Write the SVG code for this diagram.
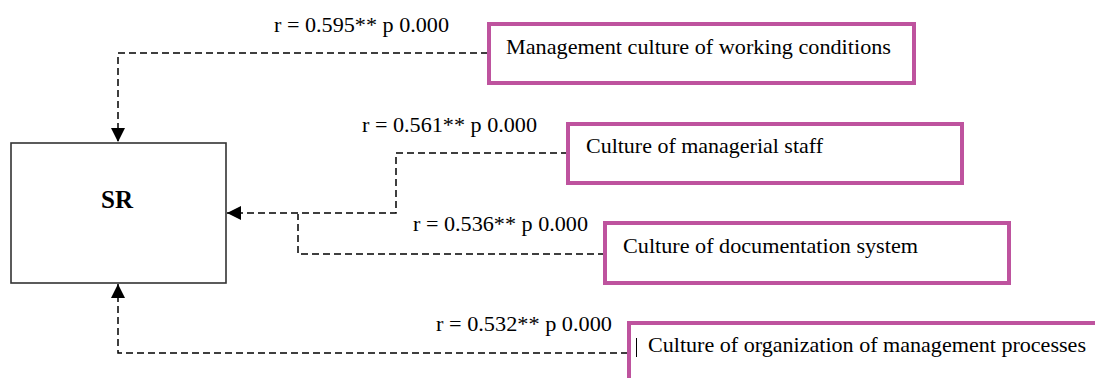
<svg xmlns="http://www.w3.org/2000/svg" width="1095" height="378" viewBox="0 0 1095 378">
<style>
  .t { font-family: "Liberation Serif", "Times New Roman", serif; font-size: 22px; fill: #000; }
  .sr { font-family: "Liberation Serif", "Times New Roman", serif; font-size: 25px; font-weight: bold; fill: #000; }
  .box { fill: #fff; stroke: #BE539E; stroke-width: 4; }
  .main { fill: #fff; stroke: #333; stroke-width: 1.6; }
  .conn { fill: none; stroke: #000; stroke-width: 1.5; stroke-dasharray: 7 4; }
</style>
<defs>
  <marker id="arr" markerUnits="userSpaceOnUse" markerWidth="14" markerHeight="14" viewBox="0 0 12 12" refX="12" refY="6" orient="auto">
    <path d="M0,0 L12,6 L0,12 Z" fill="#000"/>
  </marker>
</defs>
<rect width="1095" height="378" fill="#fff"/>
<g id="connectors">
  <path class="conn" d="M488,53 H118 V142" marker-end="url(#arr)"/>
  <path class="conn" d="M568,153 H396 V213 H227" marker-end="url(#arr)"/>
  <path class="conn" d="M605,254 H298 V214"/>
  <path class="conn" d="M628,353 H118 V284" marker-end="url(#arr)"/>
  <text class="t" x="274" y="32" textLength="175" lengthAdjust="spacingAndGlyphs">r = 0.595** p 0.000</text>
  <text class="t" x="362" y="132" textLength="175" lengthAdjust="spacingAndGlyphs">r = 0.561** p 0.000</text>
  <text class="t" x="413" y="231" textLength="175" lengthAdjust="spacingAndGlyphs">r = 0.536** p 0.000</text>
  <text class="t" x="436" y="331" textLength="176" lengthAdjust="spacingAndGlyphs">r = 0.532** p 0.000</text>
</g>
<g id="SR">
  <rect class="main" x="11" y="143" width="215" height="140"/>
  <text class="sr" x="117" y="208" text-anchor="middle">SR</text>
</g>
<g id="node1">
  <rect class="box" x="489" y="24" width="425" height="59"/>
  <text class="t" x="506" y="54" textLength="385" lengthAdjust="spacingAndGlyphs">Management culture of working conditions</text>
</g>
<g id="node2">
  <rect class="box" x="568" y="124" width="394" height="59"/>
  <text class="t" x="586" y="153" textLength="237" lengthAdjust="spacingAndGlyphs">Culture of managerial staff</text>
</g>
<g id="node3">
  <rect class="box" x="605" y="223" width="404" height="60"/>
  <text class="t" x="623" y="253" textLength="295" lengthAdjust="spacingAndGlyphs">Culture of documentation system</text>
</g>
<g id="node4">
  <rect class="box" x="629" y="323" width="500" height="80"/>
  <line x1="636.5" y1="338" x2="636.5" y2="357" stroke="#000" stroke-width="1"/>
  <text class="t" x="648" y="352" textLength="438" lengthAdjust="spacingAndGlyphs">Culture of organization of management processes</text>
</g>
</svg>
